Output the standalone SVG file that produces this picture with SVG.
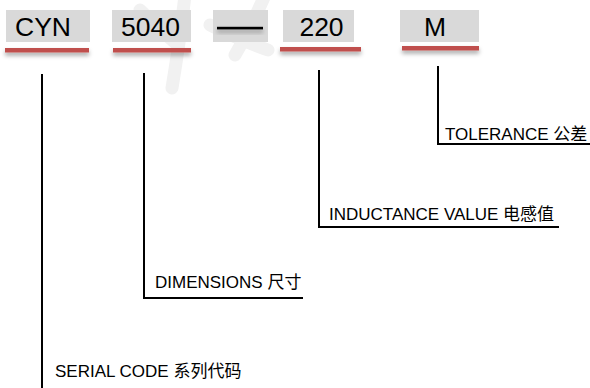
<svg xmlns="http://www.w3.org/2000/svg" width="590" height="388" viewBox="0 0 590 388">
  <defs>
    <filter id="shadow" x="-10%" y="-100%" width="120%" height="400%">
      <feDropShadow dx="0" dy="3" stdDeviation="2" flood-color="#000" flood-opacity="0.35"/>
    </filter>
    <style>
      .box { fill: #d9d9d9; }
      .code { font-family: "Liberation Sans", Arial, sans-serif; font-size: 26.5px; fill: #000; text-anchor: middle; }
      .ul { fill: #c0504d; filter: url(#shadow); }
      .lbl { font-family: "Liberation Sans", Arial, "Noto Sans CJK SC", sans-serif; font-size: 17px; fill: #000; }
      .conn { fill: none; stroke: #000; stroke-width: 2; }
      .wm { fill: none; stroke: #f1f1f1; stroke-width: 13; stroke-linecap: round; }
    </style>
  </defs>
  <rect width="590" height="388" fill="#fff"/>
  <g id="watermark">
    <path class="wm" d="M185 -5 Q180 40 172 88"/>
    <path class="wm" d="M140 10 Q160 30 178 45"/>
    <path class="wm" d="M210 25 Q240 40 268 50"/>
    <path class="wm" d="M265 -5 Q250 30 235 55"/>
  </g>
  <g id="code-cyn">
    <rect class="box" x="6" y="10" width="84" height="32"/>
    <text class="code" x="43" y="36">CYN</text>
    <rect class="ul" x="5" y="48" width="84" height="4.5"/>
  </g>
  <g id="code-5040">
    <rect class="box" x="112" y="10" width="79" height="32"/>
    <text class="code" x="150.5" y="36">5040</text>
    <rect class="ul" x="113" y="48" width="78" height="4.5"/>
  </g>
  <g id="code-dash">
    <rect class="box" x="213" y="10" width="55" height="32"/>
    <rect x="217" y="26.8" width="46" height="2.6" fill="#000" filter="url(#shadow)"/>
  </g>
  <g id="code-220">
    <rect class="box" x="283" y="10" width="71" height="32"/>
    <text class="code" x="321.5" y="36">220</text>
    <rect class="ul" x="280" y="47" width="81" height="4.5"/>
  </g>
  <g id="code-m">
    <rect class="box" x="400" y="10" width="79" height="32"/>
    <text class="code" x="435" y="36">M</text>
    <rect class="ul" x="402" y="46" width="77" height="4.5"/>
  </g>
  <g id="connectors">
    <path class="conn" d="M42 74 V388"/>
    <path class="conn" d="M144 73 V298 H303"/>
    <path class="conn" d="M319 70 V227 H559"/>
    <path class="conn" d="M438 66 V144 H590"/>
  </g>
  <g id="label-tolerance">
    <text class="lbl" x="445" y="139.5">TOLERANCE 公差</text>
  </g>
  <g id="label-inductance">
    <text class="lbl" x="329" y="220">INDUCTANCE VALUE 电感值</text>
  </g>
  <g id="label-dimensions">
    <text class="lbl" x="155" y="287.5">DIMENSIONS 尺寸</text>
  </g>
  <g id="label-serial">
    <text class="lbl" x="55" y="377">SERIAL CODE 系列代码</text>
  </g>
</svg>
